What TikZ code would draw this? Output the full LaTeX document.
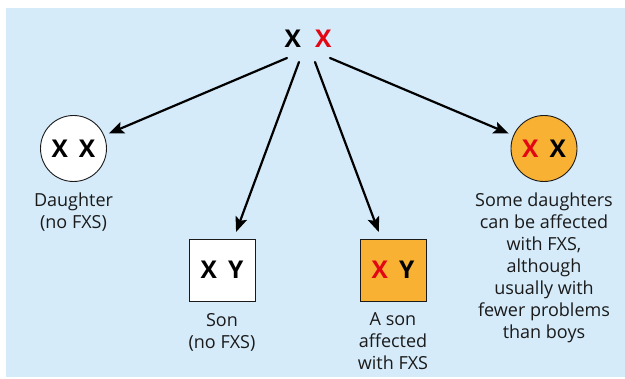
\documentclass[tikz,border=0pt]{standalone}
\usepackage{fontspec}
\setmainfont{Open Sans}
\usetikzlibrary{arrows.meta}
\definecolor{bgblue}{HTML}{D5EBFA}
\definecolor{fxorange}{HTML}{F8B133}
\definecolor{fxred}{HTML}{E30613}
\definecolor{ink}{HTML}{1A1A1A}

\begin{document}
\begin{tikzpicture}[x=1pt,y=-1pt,
  chrom/.style={font=\fontsize{24.5}{24.5}\selectfont\bfseries, text=black},
  female/.style={chrom, circle, draw=ink, line width=0.9pt, minimum size=66pt, inner sep=0pt},
  male/.style={chrom, rectangle, draw=ink, line width=0.9pt, minimum width=66pt, minimum height=62pt, inner sep=0pt},
  caption/.style={align=center, inner sep=0pt, anchor=north, text=ink,
    font=\fontsize{18}{22}\selectfont},
  link/.style={line width=2.2pt, draw=black, line cap=round,
    -{Stealth[length=15pt,width=12pt,inset=3pt]}}
]
\useasboundingbox (0,0) rectangle (625,379);
% panel background
\fill[bgblue] (6,8) rectangle (625,377);

% mother's chromosomes
\node[chrom] (parent) at (308,39) {X\hspace{14pt}\textcolor{fxred}{X}};
\coordinate (s1) at (287,58);
\coordinate (s2) at (299,62);
\coordinate (s3) at (315,62);
\coordinate (s4) at (330,58);

% children
\node[female, fill=white] (dau) at (73.5,148.5) {X\hspace{11pt}X};
\node[caption] (daulab) at (73.5,192.5) {Daughter\\(no FXS)};

\node[male, fill=white] (son) at (222,270) {X\hspace{11pt}Y};
\node[caption] (sonlab) at (222,313) {Son\\(no FXS)};

\node[male, fill=fxorange] (ason) at (393,270) {\textcolor{fxred}{X}\hspace{11pt}Y};
\node[caption] (asonlab) at (393,312) {A son\\affected\\with FXS};

\node[female, fill=fxorange] (fdau) at (544,148.5) {\textcolor{fxred}{X}\hspace{11pt}X};
\node[caption] (fdaulab) at (544,192.5) {Some daughters\\can be affected\\with FXS,\\although\\usually with\\fewer problems\\than boys};

% inheritance arrows
\draw[link, shorten >=5pt] (s1) -- (dau);
\draw[link, shorten >=7pt] (s2) -- (son);
\draw[link, shorten >=7pt] (s3) -- (ason);
\draw[link, shorten >=5pt] (s4) -- (fdau);
\end{tikzpicture}
\end{document}
